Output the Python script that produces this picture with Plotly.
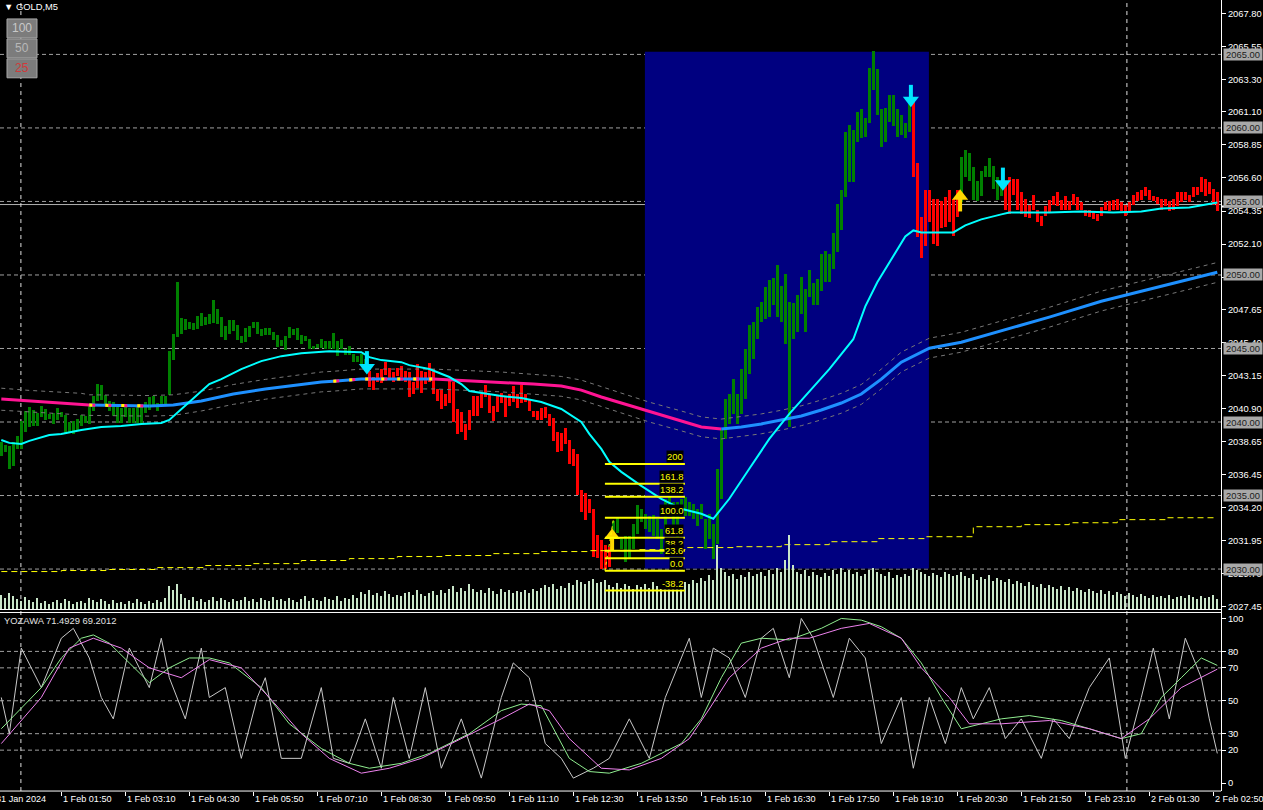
import plotly.graph_objects as go

W, H = 1263, 810

# ---------------- data ----------------
bar_top = [
 2038.64, 2038.44, 2038.38, 2038.64, 2039.05, 2040.07, 2040.75, 2041.02, 2040.81, 2040.61,
 2041.09, 2040.88, 2040.54, 2040.61, 2040.95, 2040.68, 2040.47, 2040.00, 2040.07, 2040.20,
 2040.47, 2040.41, 2041.09, 2041.76, 2042.58, 2042.51, 2041.83, 2041.42, 2041.36, 2041.02,
 2040.95, 2041.22, 2040.95, 2040.95, 2041.09, 2041.09, 2041.36, 2041.70, 2041.76, 2041.29,
 2041.76, 2041.76, 2044.82, 2045.97, 2049.50, 2047.06, 2046.99, 2046.79, 2046.72, 2047.20,
 2047.40, 2047.13, 2047.33, 2048.28, 2047.67, 2047.13, 2046.52, 2046.92, 2046.92, 2046.58,
 2045.84, 2046.38, 2046.52, 2046.79, 2046.79, 2046.31, 2046.38, 2046.38, 2046.11, 2045.90,
 2045.57, 2045.84, 2046.45, 2046.31, 2046.38, 2045.90, 2045.84, 2045.63, 2045.16, 2045.29,
 2045.63, 2045.50, 2045.50, 2046.04, 2045.50, 2045.63, 2044.95, 2045.16, 2044.61, 2044.48,
 2044.61, 2044.27, 2043.46, 2043.06, 2043.33, 2043.60, 2044.07, 2043.67, 2043.40, 2043.67,
 2043.80, 2043.46, 2043.40, 2042.72, 2043.94, 2043.46, 2043.40, 2044.01, 2043.60, 2042.24,
 2042.18, 2041.90, 2042.78, 2042.72, 2040.88, 2040.68, 2039.86, 2040.81, 2041.76, 2041.76,
 2041.90, 2042.51, 2041.90, 2041.09, 2041.76, 2041.97, 2041.70, 2041.90, 2042.44, 2041.90,
 2042.51, 2041.90, 2041.56, 2040.75, 2040.75, 2040.95, 2041.02, 2040.54, 2040.27, 2039.33,
 2039.26, 2039.60, 2038.78, 2038.17, 2037.83, 2035.39, 2035.19, 2034.78, 2034.10, 2032.34,
 2032.00, 2031.66, 2031.53, 2033.29, 2033.56, 2032.21, 2032.27, 2032.27, 2033.09, 2034.37,
 2034.10, 2033.76, 2033.63, 2033.70, 2033.42, 2032.75, 2034.78, 2034.98, 2034.58, 2034.58,
 2034.78, 2034.92, 2034.58, 2034.44, 2034.10, 2034.44, 2033.42, 2033.76, 2033.09, 2036.83,
 2039.53, 2041.56, 2041.90, 2042.92, 2041.90, 2043.60, 2044.95, 2046.58, 2046.79, 2047.81,
 2048.15, 2049.16, 2049.64, 2049.77, 2050.65, 2049.23, 2050.04, 2048.15, 2048.08, 2048.62,
 2049.84, 2049.02, 2050.32, 2049.43, 2049.70, 2051.40, 2051.60, 2051.40, 2052.83, 2054.86,
 2055.81, 2059.75, 2060.22, 2059.88, 2061.10, 2061.31, 2060.70, 2064.09, 2065.24, 2064.02,
 2061.31, 2061.37, 2062.26, 2062.26, 2061.31, 2060.90, 2060.36, 2061.65, 2061.92, 2057.64,
 2053.91, 2055.81, 2055.81, 2055.20, 2055.20, 2055.00, 2055.33, 2055.81, 2055.20, 2055.81,
 2058.05, 2058.53, 2058.32, 2057.37, 2056.42, 2057.10, 2057.44, 2057.98, 2057.44, 2056.69,
 2056.01, 2056.15, 2056.69, 2056.56, 2056.56, 2055.61, 2055.20, 2054.79, 2055.47, 2054.45,
 2054.04, 2054.66, 2055.13, 2055.40, 2055.61, 2055.13, 2055.40, 2055.00, 2055.54, 2055.27,
 2054.93, 2054.45, 2054.39, 2054.25, 2054.12, 2054.59, 2054.93, 2055.00, 2055.13, 2055.20,
 2054.93, 2054.79, 2054.93, 2055.47, 2055.61, 2055.81, 2055.95, 2055.81, 2055.40, 2055.33,
 2055.20, 2055.20, 2055.00, 2055.20, 2055.61, 2055.67, 2055.61, 2055.47, 2056.01, 2056.01,
 2056.69, 2056.56, 2056.29, 2055.88, 2055.61]

bar_bot = [
 2037.69, 2037.97, 2036.82, 2037.02, 2038.17, 2038.17, 2039.33, 2039.66, 2039.73, 2039.73,
 2040.34, 2040.14, 2040.20, 2039.86, 2040.14, 2040.34, 2039.19, 2039.26, 2039.19, 2039.46,
 2039.73, 2039.93, 2039.86, 2040.75, 2041.42, 2041.49, 2041.15, 2040.75, 2040.41, 2039.93,
 2039.93, 2040.34, 2039.93, 2039.93, 2039.93, 2039.93, 2040.61, 2040.81, 2041.09, 2040.75,
 2041.09, 2041.09, 2041.83, 2044.21, 2045.77, 2045.97, 2046.24, 2046.31, 2046.24, 2046.31,
 2046.52, 2046.58, 2046.65, 2046.72, 2046.65, 2045.77, 2045.57, 2045.97, 2046.18, 2045.57,
 2045.37, 2045.43, 2045.77, 2046.38, 2045.97, 2045.84, 2045.90, 2045.90, 2045.57, 2045.09,
 2045.16, 2044.89, 2045.70, 2045.90, 2045.57, 2045.29, 2045.50, 2044.95, 2044.95, 2045.02,
 2045.02, 2044.95, 2044.95, 2044.95, 2044.48, 2044.95, 2044.55, 2044.55, 2044.07, 2044.07,
 2043.94, 2043.60, 2042.38, 2042.18, 2042.72, 2042.65, 2043.19, 2042.92, 2042.72, 2043.12,
 2043.06, 2042.72, 2041.70, 2041.90, 2042.31, 2041.97, 2042.58, 2042.72, 2041.90, 2041.42,
 2040.88, 2041.09, 2041.29, 2040.00, 2039.19, 2039.33, 2038.78, 2039.46, 2040.41, 2040.41,
 2040.95, 2041.70, 2040.61, 2040.07, 2040.68, 2041.29, 2040.34, 2041.09, 2041.36, 2040.95,
 2041.29, 2041.36, 2040.75, 2040.34, 2040.14, 2040.14, 2040.27, 2039.73, 2038.71, 2037.97,
 2038.04, 2038.51, 2037.15, 2037.02, 2035.05, 2033.90, 2033.36, 2033.84, 2030.84, 2030.78,
 2030.03, 2030.03, 2030.17, 2032.41, 2032.48, 2031.39, 2030.51, 2030.71, 2031.39, 2032.41,
 2033.22, 2032.75, 2032.54, 2032.27, 2032.07, 2031.05, 2032.75, 2033.63, 2032.95, 2030.98,
 2033.63, 2033.63, 2033.63, 2033.42, 2032.95, 2033.42, 2031.39, 2032.07, 2030.71, 2031.73,
 2034.78, 2038.85, 2039.86, 2040.54, 2039.86, 2040.54, 2041.56, 2043.26, 2044.27, 2045.63,
 2046.79, 2046.99, 2047.13, 2047.94, 2047.13, 2046.79, 2045.29, 2039.66, 2045.63, 2046.11,
 2047.33, 2046.11, 2048.49, 2047.94, 2047.94, 2048.89, 2049.50, 2049.50, 2050.38, 2051.54,
 2053.03, 2055.27, 2056.29, 2056.35, 2059.07, 2059.34, 2059.41, 2060.36, 2062.59, 2060.90,
 2058.73, 2059.07, 2060.42, 2060.15, 2059.41, 2059.54, 2059.34, 2059.75, 2056.69, 2052.55,
 2051.13, 2051.94, 2053.57, 2052.08, 2051.94, 2053.17, 2053.24, 2053.57, 2052.62, 2053.91,
 2054.93, 2056.69, 2056.42, 2055.13, 2055.00, 2055.34, 2056.69, 2056.69, 2055.88, 2055.13,
 2055.40, 2054.39, 2054.12, 2055.47, 2054.39, 2054.12, 2053.91, 2053.85, 2054.39, 2053.57,
 2053.30, 2054.04, 2054.25, 2054.73, 2054.66, 2054.45, 2054.39, 2054.39, 2054.73, 2054.45,
 2054.39, 2053.98, 2053.91, 2053.78, 2053.64, 2054.04, 2054.39, 2054.32, 2054.45, 2054.39,
 2054.32, 2053.98, 2054.32, 2054.79, 2055.00, 2055.13, 2055.34, 2055.13, 2055.00, 2054.86,
 2054.45, 2054.66, 2054.32, 2054.39, 2054.66, 2054.93, 2055.13, 2054.93, 2055.27, 2055.47,
 2055.67, 2055.34, 2055.54, 2054.79, 2054.32]

bar_color = "g" * 92 + "r" * 61 + "g" * 75 + "r" * 12 + "g" * 11 + "r" * 54

volume = [
 150,120,170,140,110,90,130,100,80,120, 70,90,60,80,100,70,110,90,60,80,
 90,70,120,100,80,110,90,60,100,70, 80,60,90,70,110,80,60,90,70,100,
 80,120,240,200,260,160,120,100,130,90, 110,80,100,130,90,120,100,80,110,90,
 100,130,90,110,80,120,100,90,130,100, 110,90,120,100,80,110,140,90,120,100,
 90,130,110,100,140,90,120,110,150,120, 180,160,200,150,170,140,190,160,130,150,
 140,170,180,150,200,160,140,170,190,150, 200,170,210,240,180,220,190,260,210,180,
 200,170,220,190,160,210,180,200,170,190, 180,200,170,210,190,220,250,230,260,210,
 240,220,270,250,300,280,260,290,310,270, 280,300,250,230,270,220,260,240,210,250,
 230,260,220,280,240,210,270,250,230,260, 240,280,260,300,270,320,290,350,300,650,
 420,380,340,360,310,350,330,380,340,360, 380,340,400,360,420,380,500,750,450,380,
 360,400,340,380,350,330,370,340,400,360, 420,380,400,360,380,340,360,400,420,380,
 360,340,380,320,350,330,360,340,420,400, 380,360,340,370,350,330,380,360,340,350,
 380,340,320,360,300,330,310,350,290,320, 300,280,310,260,290,270,240,280,250,230,
 260,220,250,230,210,240,200,230,190,220, 200,180,210,190,170,200,160,190,150,180,
 160,140,170,150,130,160,140,120,150,130, 140,120,150,110,130,140,120,150,130,110,
 140,120,130,150,110]

# fast moving average (cyan)
fast_k = [0,2,5,7,12,15,20,25,30,35,40,42,47,52,55,60,65,70,75,82,90,92,95,100,102,107,112,115,117,
          120,125,130,135,140,142,145,147,150,152,155,160,165,170,175,178,182,187,192,197,202,207,
          213,216,219,223,226,228,230,235,238,241,245,250,252,258,262,270,278,285,290,297,304]
fast_v = [2038.78,2038.58,2038.51,2038.72,2039.12,2039.19,2039.46,2039.66,2039.73,2039.87,2039.94,
          2040.14,2041.36,2042.58,2042.92,2043.60,2044.14,2044.48,2044.68,2044.82,2044.75,2044.41,
          2044.21,2044.07,2043.87,2043.60,2043.06,2042.58,2042.11,2041.97,2041.77,2041.63,2041.36,
          2040.89,2040.55,2040.00,2039.19,2038.17,2037.29,2036.61,2035.66,2034.78,2034.10,2033.76,
          2033.42,2034.78,2036.82,2038.85,2040.55,2042.11,2043.60,2045.63,2047.87,2049.50,2051.27,
          2052.62,2053.03,2052.89,2052.89,2052.89,2053.37,2053.78,2054.12,2054.25,2054.25,2054.25,
          2054.32,2054.25,2054.32,2054.52,2054.59,2054.93]

# slow moving average (pink falling / blue rising) and its envelope
slow_k = [0,7,20,22,37,43,50,58,66,75,80,83,90,100,108,125,133,140,145,150,155,162,170,175,180,
          185,190,195,200,205,210,215,220,225,232,240,250,262,275,287,304]
slow_v = [2041.56,2041.43,2041.22,2041.15,2041.09,2041.15,2041.43,2041.90,2042.24,2042.58,2042.72,
          2042.78,2042.92,2042.92,2042.92,2042.72,2042.58,2042.45,2042.17,2041.70,2041.29,2040.68,
          2040.07,2039.66,2039.53,2039.66,2039.87,2040.14,2040.41,2040.82,2041.29,2041.90,2042.92,
          2044.07,2045.02,2045.43,2046.18,2047.13,2048.21,2049.03,2050.18]
env_up = [2042.30,2042.15,2041.95,2041.85,2041.80,2041.85,2042.10,2042.55,2042.90,2043.25,2043.40,
          2043.45,2043.60,2043.60,2043.60,2043.40,2043.25,2043.10,2042.85,2042.40,2041.95,2041.35,
          2040.75,2040.35,2040.20,2040.35,2040.55,2040.80,2041.10,2041.50,2041.95,2042.55,2043.60,
          2044.75,2045.70,2046.10,2046.85,2047.80,2048.90,2049.70,2050.85]
env_dn = [2040.80,2040.70,2040.50,2040.45,2040.40,2040.45,2040.75,2041.20,2041.55,2041.90,2042.05,
          2042.10,2042.25,2042.25,2042.25,2042.05,2041.90,2041.75,2041.50,2041.05,2040.60,2040.00,
          2039.40,2039.00,2038.85,2039.00,2039.20,2039.45,2039.75,2040.15,2040.60,2041.20,2042.25,
          2043.40,2044.35,2044.75,2045.50,2046.45,2047.55,2048.35,2049.50]
slow_segments = [(0, 22, "pink"), (22, 37, "mixed"), (37, 83, "blue"), (83, 108, "mixed"),
                 (108, 180, "pink"), (180, 304, "blue")]

# yellow dashed step level
step_k = [0,15,27,39,51,63,75,87,99,111,123,135,147,159,171,183,195,207,219,231,243,255,267,279,291,304]
step_v = [2029.83,2029.90,2029.97,2030.10,2030.24,2030.37,2030.58,2030.71,2030.85,2030.92,2031.05,
          2031.19,2031.25,2031.32,2031.46,2031.52,2031.66,2031.86,2032.07,2032.20,2032.88,2033.02,
          2033.15,2033.36,2033.49,2033.49]

# Fibonacci retracement
fib_labels = ["200", "161.8", "138.2", "100.0", "61.8", "38.2", "23.6", "0.0", "-38.2"]
fib_prices = [2037.15, 2035.80, 2034.92, 2033.49, 2032.13, 2031.25, 2030.74, 2029.89, 2028.54]
fib_k = (150.9, 170.9)

# signal arrows: (bar, tail price, tip price, colour)
arrows = [(91.4, 2044.82, 2043.46, "#00e5ff"), (152.7, 2031.25, 2032.54, "#ffd700"),
          (227.4, 2062.93, 2061.64, "#00e5ff"), (239.7, 2054.32, 2055.61, "#ffd700"),
          (250.4, 2057.30, 2055.95, "#00e5ff")]

# YOZAWA oscillator
osc_gray_k = [0,2,5,10,15,18,22,25,28,32,37,40,42,46,50,52,56,60,64,66,70,75,80,83,87,91,95,98,102,106,
              110,115,120,125,128,132,136,140,143,148,152,157,162,166,170,172,175,178,182,186,190,193,
              197,200,203,208,212,216,220,225,228,232,236,240,243,247,251,255,260,263,267,272,277,281,
              285,288,292,296,300,302,304]
osc_gray_v = [52,30,82,58,88,94,76,52,39,82,58,88,64,39,82,52,58,15,52,64,15,15,58,15,12,39,9,52,15,58,
              9,39,3,52,73,64,24,15,3,9,15,39,15,52,76,88,52,82,76,52,88,94,
              64,100,88,52,88,76,24,52,9,52,24,58,39,58,27,39,15,39,27,58,76,15,
              52,82,39,88,64,39,18]
osc_green_k = [0,10,15,20,23,27,32,37,42,47,52,57,65,72,80,87,92,100,107,117,125,130,135,138,142,147,152,
               160,170,175,180,185,190,197,205,210,215,220,225,230,235,240,245,250,257,265,272,280,285,
               290,295,300,304]
osc_green_v = [33,58,76,88,90,85,73,61,70,76,76,73,58,36,21,12,9,12,18,30,44,48,47,33,15,7,6,
               12,24,39,64,85,88,87,94,100,99,95,88,73,52,33,36,39,41,38,33,27,30,
               52,64,76,71.49]
osc_violet_k = [0,10,17,23,30,37,45,52,60,67,75,82,90,97,105,115,125,132,137,142,150,157,165,172,177,182,
                190,197,202,210,217,225,230,237,242,250,262,272,280,287,295,304]
osc_violet_v = [24,52,82,88,82,70,64,75,70,52,30,15,6,9,15,27,39,48,44,27,9,8,15,27,45,64,
                82,88,88,94,97,88,70,52,36,36,38,33,27,39,58,69.20]

time_k = [15 + 16 * i for i in range(19)]
time_labels = ["1 Feb 01:50", "1 Feb 03:10", "1 Feb 04:30", "1 Feb 05:50", "1 Feb 07:10",
               "1 Feb 08:30", "1 Feb 09:50", "1 Feb 11:10", "1 Feb 12:30", "1 Feb 13:50",
               "1 Feb 15:10", "1 Feb 16:30", "1 Feb 17:50", "1 Feb 19:10", "1 Feb 20:30",
               "1 Feb 21:50", "1 Feb 23:10", "2 Feb 01:30", "2 Feb 02:50"]
price_ticks = [2067.80, 2065.55, 2063.30, 2061.10, 2058.85, 2056.60, 2054.35, 2052.10, 2049.85,
               2047.65, 2045.40, 2043.15, 2040.90, 2038.65, 2036.45, 2034.20, 2031.95, 2029.70, 2027.45]
hlines = [2065, 2060, 2055, 2050, 2045, 2040, 2035, 2030]
bid_price = 2054.79
osc_levels = [80, 70, 50, 30, 20]
osc_ticks = [0, 20, 30, 50, 70, 80, 100]
separators_k = [4.9, 281.4]
box_k = (160.9, 231.9)
box_p = (2030.03, 2065.18)

# ---------------- figure ----------------
FONT = "Liberation Sans"
FS = 9.4
FS_T = 9.1
def px(x):
    return x / W
def py(y):
    return 1 - y / H

fig = go.Figure()

ks = list(range(len(bar_top)))
for c, col in (("g", "#008000"), ("r", "#ff0000")):
    idx = [k for k in ks if bar_color[k] == c]
    fig.add_trace(go.Bar(x=idx, y=[bar_top[k] - bar_bot[k] for k in idx],
                         base=[bar_bot[k] for k in idx], width=0.68,
                         marker=dict(color=col, line=dict(width=0)), xaxis="x", yaxis="y"))

fig.add_trace(go.Bar(x=ks, y=volume, width=0.3, marker=dict(color="#c9e6c9", line=dict(width=0)),
                     xaxis="x", yaxis="y3"))

# envelope
for env in (env_up, env_dn):
    fig.add_trace(go.Scatter(x=slow_k, y=env, mode="lines",
                             line=dict(color="#777777", width=1, dash="4px,4px"), yaxis="y"))

# slow MA segments
for a, b, kind in slow_segments:
    sx = [k for k in slow_k if a <= k <= b]
    sy = [slow_v[slow_k.index(k)] for k in sx]
    if kind == "mixed":
        fig.add_trace(go.Scatter(x=sx, y=sy, mode="lines", line=dict(color="#1e90ff", width=3)))
        fig.add_trace(go.Scatter(x=sx, y=sy, mode="lines", line=dict(color="#ff1493", width=3, dash="6px,10px")))
        fig.add_trace(go.Scatter(x=sx, y=sy, mode="lines", line=dict(color="#ffff00", width=3, dash="3px,13px")))
    else:
        fig.add_trace(go.Scatter(x=sx, y=sy, mode="lines",
                                 line=dict(color="#ff1493" if kind == "pink" else "#1e90ff", width=3)))

fig.add_trace(go.Scatter(x=fast_k, y=fast_v, mode="lines", line=dict(color="#00ffff", width=2)))
fig.add_trace(go.Scatter(x=step_k, y=step_v, mode="lines", line_shape="hv",
                         line=dict(color="#ffff00", width=1, dash="6px,4px")))

# signal arrows: thick stem + triangular head
HEAD = 0.5
for k, tail, tip, col in arrows:
    down = tail > tip
    head_c = tip + HEAD / 2 if down else tip - HEAD / 2
    stem_end = tip + HEAD * 0.6 if down else tip - HEAD * 0.6
    fig.add_trace(go.Scatter(x=[k, k], y=[tail, stem_end], mode="lines", line=dict(color=col, width=4)))
    fig.add_trace(go.Scatter(x=[k], y=[head_c], mode="markers",
                             marker=dict(symbol="triangle-down" if down else "triangle-up", size=14,
                                         color=col, line=dict(width=0))))

# oscillator
fig.add_trace(go.Scatter(x=osc_gray_k, y=osc_gray_v, mode="lines", line=dict(color="#c8c8c8", width=1), yaxis="y2"))
fig.add_trace(go.Scatter(x=osc_green_k, y=osc_green_v, mode="lines", line=dict(color="#90ee90", width=1), yaxis="y2"))
fig.add_trace(go.Scatter(x=osc_violet_k, y=osc_violet_v, mode="lines", line=dict(color="#ee82ee", width=1), yaxis="y2"))

shapes = []
shapes.append(dict(type="rect", xref="x", yref="y", x0=box_k[0], x1=box_k[1], y0=box_p[0], y1=box_p[1],
                   fillcolor="#000080", line=dict(width=0), layer="below"))
for p in hlines:
    shapes.append(dict(type="line", xref="paper", yref="y", x0=0, x1=px(1221), y0=p, y1=p,
                       line=dict(color="#a0a0a0", width=1, dash="4px,3px"), layer="below"))
shapes.append(dict(type="line", xref="paper", yref="y", x0=0, x1=px(1221), y0=bid_price, y1=bid_price,
                   line=dict(color="#b0b0b0", width=1), layer="below"))
for lv in osc_levels:
    shapes.append(dict(type="line", xref="paper", yref="y2", x0=0, x1=px(1221), y0=lv, y1=lv,
                       line=dict(color="#a0a0a0", width=1, dash="4px,3px"), layer="below"))
for sk in separators_k:
    shapes.append(dict(type="line", xref="x", yref="paper", x0=sk, x1=sk, y0=py(793), y1=1,
                       line=dict(color="#e0e0e0", width=1, dash="4px,4px"), layer="below"))
for p in fib_prices:
    shapes.append(dict(type="line", xref="x", yref="y", x0=fib_k[0], x1=fib_k[1], y0=p, y1=p,
                       line=dict(color="#ffff00", width=2)))
shapes.append(dict(type="line", xref="x", yref="y", x0=fib_k[0], x1=fib_k[0] + 2.2,
                   y0=fib_prices[7], y1=fib_prices[3], line=dict(color="#ffff00", width=1, dash="dot")))
# frame
for y in (611, 614, 793):
    shapes.append(dict(type="line", xref="paper", yref="paper", x0=0, x1=px(1221), y0=py(y), y1=py(y),
                       line=dict(color="#ffffff", width=1)))
shapes.append(dict(type="line", xref="paper", yref="paper", x0=px(1221.5), x1=px(1221.5), y0=py(793), y1=1,
                   line=dict(color="#ffffff", width=1)))
shapes.append(dict(type="line", xref="paper", yref="paper", x0=px(1221), x1=1, y0=py(207), y1=py(207),
                   line=dict(color="#ffffff", width=2)))
# buttons
for (y0, y1) in ((19, 38), (39, 58), (59, 78)):
    shapes.append(dict(type="rect", xref="paper", yref="paper", x0=px(7), x1=px(37), y0=py(y1), y1=py(y0),
                       fillcolor="#7c7c7c", line=dict(color="#a8a8a8", width=1)))

ann = []
for k, t in zip(time_k, time_labels):
    ann.append(dict(x=k, y=py(801), xref="x", yref="paper", text=t, showarrow=False, xanchor="left",
                    yanchor="middle", font=dict(family=FONT, size=FS_T, color="#ffffff")))
ann.append(dict(x=px(-6), y=py(801), xref="paper", yref="paper", text="31 Jan 2024", showarrow=False,
                xanchor="left", yanchor="middle", font=dict(family=FONT, size=FS_T, color="#ffffff")))
for p in hlines:
    ann.append(dict(x=px(1223), y=p, xref="paper", yref="y", text=f"{p:.2f}", showarrow=False,
                    xanchor="left", yanchor="middle", width=38, height=11, bgcolor="#a8a8a8",
                    borderpad=0, font=dict(family=FONT, size=FS, color="#202020")))
for lab, p in zip(fib_labels, fib_prices):
    ann.append(dict(x=fib_k[1] - 0.2, y=p, xref="x", yref="y", text=lab, showarrow=False, xanchor="right",
                    yanchor="bottom", bgcolor="#000000", borderpad=0, yshift=1,
                    font=dict(family=FONT, size=FS, color="#ffff00")))
ann.append(dict(x=px(2), y=py(7), xref="paper", yref="paper", text="▼ GOLD,M5", showarrow=False,
                xanchor="left", yanchor="middle", font=dict(family=FONT, size=FS, color="#ffffff")))
ann.append(dict(x=px(2), y=py(622), xref="paper", yref="paper", text="YOZAWA 71.4929 69.2012", showarrow=False,
                xanchor="left", yanchor="middle", font=dict(family=FONT, size=FS, color="#e0e0e0")))
for (yc, t, col) in ((28, "100", "#c8c8c8"), (48, "50", "#b8b8b8"), (68, "25", "#d03a3a")):
    ann.append(dict(x=px(22), y=py(yc), xref="paper", yref="paper", text=t, showarrow=False,
                    xanchor="center", yanchor="middle", font=dict(family=FONT, size=12, color=col)))

fig.update_layout(
    width=W, height=H, margin=dict(l=0, r=0, t=0, b=0),
    paper_bgcolor="#000000", plot_bgcolor="#000000", showlegend=False, bargap=0,
    shapes=shapes, annotations=ann,
    xaxis=dict(domain=[0, px(1221)], range=[-0.325, 304.925], anchor="y2", showgrid=False, zeroline=False,
               showticklabels=False, ticks="outside", tickvals=time_k, ticklen=4, tickcolor="#ffffff"),
    yaxis=dict(domain=[py(611), 1], range=[2027.25, 2068.70], side="right", anchor="x", showgrid=False,
               zeroline=False, tickvals=price_ticks, ticktext=[f"{p:.2f}" for p in price_ticks],
               ticks="outside", ticklen=4, tickcolor="#ffffff",
               tickfont=dict(family=FONT, size=FS, color="#ffffff")),
    yaxis2=dict(domain=[py(793), py(614)], range=[-4.85, 103.64], side="right", anchor="x", showgrid=False,
                zeroline=False, tickvals=osc_ticks, ticks="outside", ticklen=4, tickcolor="#ffffff",
                tickfont=dict(family=FONT, size=FS, color="#ffffff")),
    yaxis3=dict(overlaying="y", range=[0, 6110], visible=False),
)

fig.write_html("out.html", config={"displayModeBar": False},
               post_script="document.body.style.margin='0';document.body.style.background='#000';")
